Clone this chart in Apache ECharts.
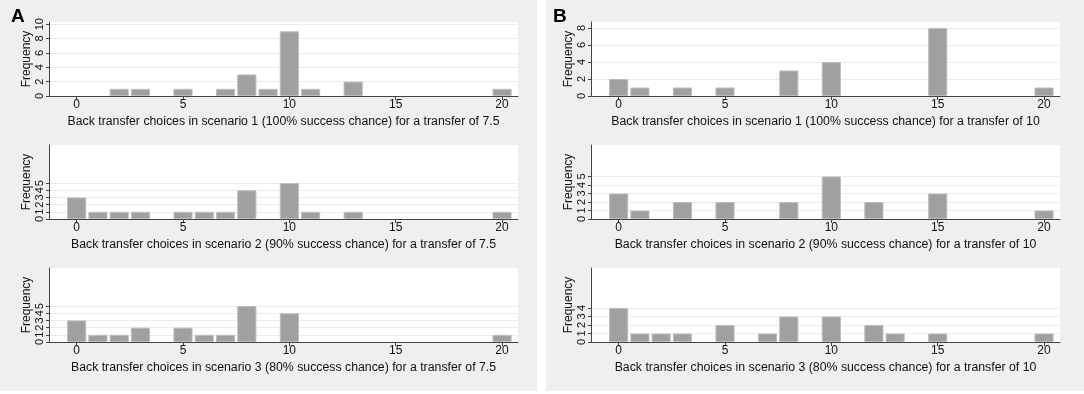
<!DOCTYPE html>
<html>
<head>
<meta charset="utf-8">
<script src="https://cdn.jsdelivr.net/npm/echarts@6/dist/echarts.min.js"></script>
<style>
  html, body { margin: 0; padding: 0; background: #fff; }
  #chart { width: 1084px; height: 394px; }
</style>
</head>
<body>
<div id="chart"></div>
<script>
// back transfer choices (x) and frequencies, one pair per histogram
const choicesA1 = [2, 3, 5, 7, 8, 9, 10, 11, 13, 20];
const freqA1    = [1, 1, 1, 1, 3, 1, 9, 1, 2, 1];
const choicesA2 = [0, 1, 2, 3, 5, 6, 7, 8, 10, 11, 13, 20];
const freqA2    = [3, 1, 1, 1, 1, 1, 1, 4, 5, 1, 1, 1];
const choicesA3 = [0, 1, 2, 3, 5, 6, 7, 8, 10, 20];
const freqA3    = [3, 1, 1, 2, 2, 1, 1, 5, 4, 1];
const choicesB1 = [0, 1, 3, 5, 8, 10, 15, 20];
const freqB1    = [2, 1, 1, 1, 3, 4, 8, 1];
const choicesB2 = [0, 1, 3, 5, 8, 10, 12, 15, 20];
const freqB2    = [3, 1, 2, 2, 2, 5, 2, 3, 1];
const choicesB3 = [0, 1, 2, 3, 5, 7, 8, 10, 12, 13, 15, 20];
const freqB3    = [4, 1, 1, 1, 2, 1, 3, 3, 2, 1, 1, 1];

const xTicks = [0, 5, 10, 15, 20];
const yTicksA1 = [0, 2, 4, 6, 8, 10];
const yTicksA2 = [0, 1, 2, 3, 4, 5];
const yTicksA3 = [0, 1, 2, 3, 4, 5];
const yTicksB1 = [0, 2, 4, 6, 8];
const yTicksB2 = [0, 1, 2, 3, 4, 5];
const yTicksB3 = [0, 1, 2, 3, 4];

const titles = [
  'Back transfer choices in scenario 1 (100% success chance) for a transfer of 7.5',
  'Back transfer choices in scenario 2 (90% success chance) for a transfer of 7.5',
  'Back transfer choices in scenario 3 (80% success chance) for a transfer of 7.5',
  'Back transfer choices in scenario 1 (100% success chance) for a transfer of 10',
  'Back transfer choices in scenario 2 (90% success chance) for a transfer of 10',
  'Back transfer choices in scenario 3 (80% success chance) for a transfer of 10'
];

const panels = [
  {x: choicesA1, y: freqA1, ticks: yTicksA1, max: 10.3},
  {x: choicesA2, y: freqA2, ticks: yTicksA2, max: 10.3},
  {x: choicesA3, y: freqA3, ticks: yTicksA3, max: 10.3},
  {x: choicesB1, y: freqB1, ticks: yTicksB1, max: 8.7},
  {x: choicesB2, y: freqB2, ticks: yTicksB2, max: 8.7},
  {x: choicesB3, y: freqB3, ticks: yTicksB3, max: 8.7}
];

const font = 'Liberation Sans, Arial, sans-serif';
const gridTops = [22, 145, 268];
const gridLefts = [49, 591];

const grids = [], xAxes = [], yAxes = [], series = [];
panels.forEach((p, i) => {
  const col = i < 3 ? 0 : 1;
  const row = i % 3;
  grids.push({
    left: gridLefts[col], top: gridTops[row], width: 469, height: 74,
    show: true, backgroundColor: '#fff', borderWidth: 0
  });
  xAxes.push({
    type: 'value', gridIndex: i, min: -1.3, max: 20.75,
    axisLine: {show: true, onZero: false, lineStyle: {color: '#444', width: 1}},
    axisTick: {show: true, customValues: xTicks, length: 4, lineStyle: {color: '#444'}},
    axisLabel: {customValues: xTicks, color: '#111', fontFamily: font, fontSize: 12, margin: 3},
    splitLine: {show: false},
    name: titles[i], nameLocation: 'middle', nameGap: 20,
    nameTextStyle: {color: '#111', fontFamily: font, fontSize: 12.3}
  });
  yAxes.push({
    type: 'value', gridIndex: i, min: 0, max: p.max,
    axisLine: {show: true, onZero: false, lineStyle: {color: '#444', width: 1}},
    axisTick: {show: true, customValues: p.ticks, length: 3, lineStyle: {color: '#444'}},
    axisLabel: {customValues: p.ticks, rotate: 90, color: '#111', fontFamily: font, fontSize: 11, margin: 4},
    splitLine: {show: true, lineStyle: {color: '#e4eef1', width: 1}},
    name: 'Frequency', nameLocation: 'middle', nameGap: 16, nameRotate: 90,
    nameTextStyle: {color: '#111', fontFamily: font, fontSize: 12}
  });
  series.push({
    type: 'bar', xAxisIndex: i, yAxisIndex: i,
    data: p.x.map((v, k) => [v, p.y[k]]),
    barWidth: '90%',
    itemStyle: {color: '#a0a0a0', borderColor: '#bdbdbd', borderWidth: 1},
    silent: true, animation: false
  });
});

const chart = echarts.init(document.getElementById('chart'), null, {renderer: 'canvas'});
chart.setOption({
  animation: false,
  backgroundColor: '#fff',
  graphic: [
    {type: 'rect', z: -10, shape: {x: 0, y: 0, width: 537, height: 391}, style: {fill: '#efefef'}},
    {type: 'rect', z: -10, shape: {x: 546, y: 0, width: 538, height: 391}, style: {fill: '#efefef'}},
    {type: 'text', left: 11, top: 7, style: {text: 'A', font: 'bold 19px ' + font, fill: '#000'}},
    {type: 'text', left: 553, top: 7, style: {text: 'B', font: 'bold 19px ' + font, fill: '#000'}}
  ],
  grid: grids,
  xAxis: xAxes,
  yAxis: yAxes,
  series: series
});
</script>
</body>
</html>
